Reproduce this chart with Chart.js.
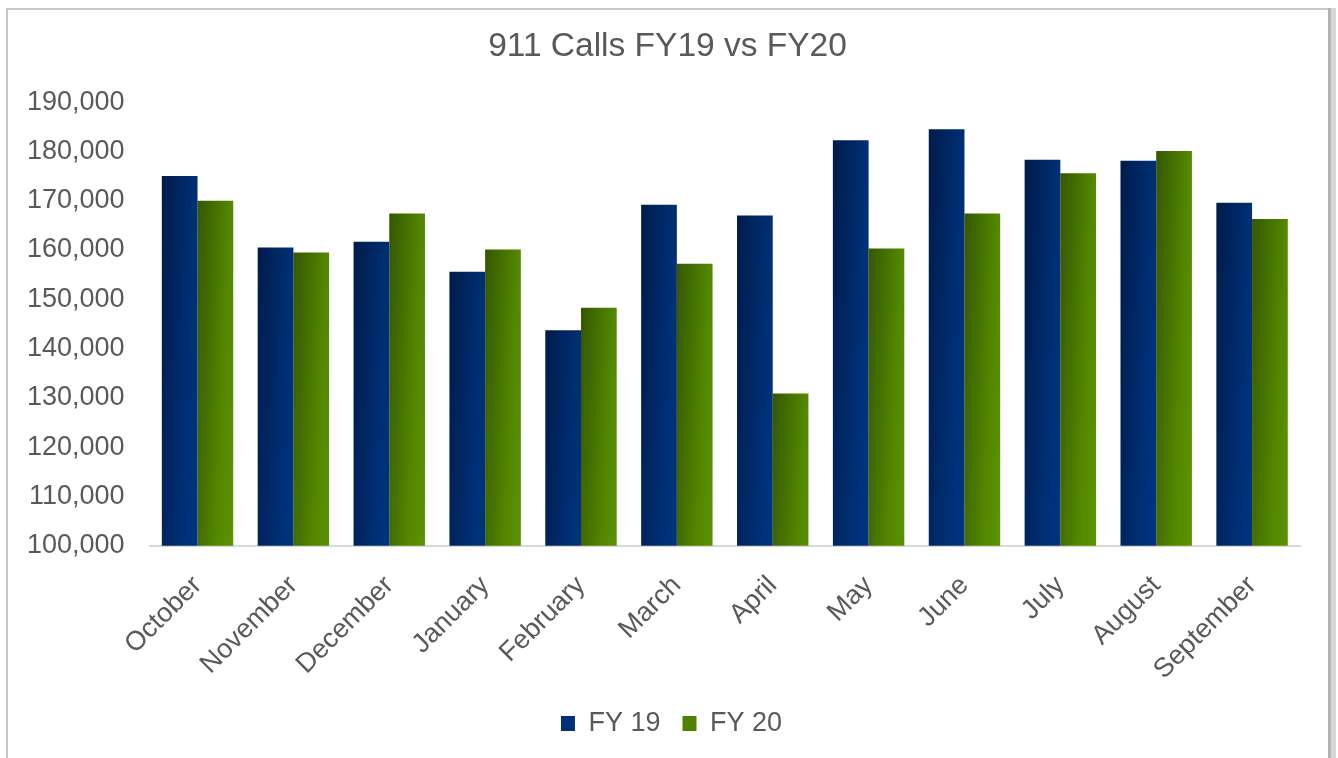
<!DOCTYPE html>
<html>
<head>
<meta charset="utf-8">
<script src="https://cdn.jsdelivr.net/npm/chart.js@4.4.1/dist/chart.umd.min.js"></script>
<style>
  html, body { margin: 0; padding: 0; background: #ffffff; }
  #wrap { position: relative; width: 1338px; height: 758px; }
</style>
</head>
<body>
<div id="wrap"><canvas id="c" width="1338" height="758"></canvas></div>
<script>
const months = ["October", "November", "December", "January", "February", "March",
                "April", "May", "June", "July", "August", "September"];
const fy19 = [175000, 160500, 161700, 155600, 143700, 169200, 167000, 182300, 184500, 178300, 178100, 169600];
const fy20 = [170000, 159500, 167400, 160100, 148300, 157200, 130900, 160300, 167400, 175600, 180100, 166300];
const seriesNames = ["FY 19", "FY 20"];
const chartTitle = "911 Calls FY19 vs FY20";
const yMin = 100000, yMax = 190000, yStep = 10000;

const gradStops = {
  0: ["#001b4a", "#002e72", "#003c8f"],
  1: ["#355700", "#528600", "#68a400"]
};

const barGradientPlugin = {
  id: 'barGradient',
  beforeDatasetsDraw(chart) {
    const ctx = chart.ctx;
    chart.data.datasets.forEach((ds, di) => {
      const meta = chart.getDatasetMeta(di);
      meta.data.forEach(el => {
        const w = el.width;
        const left = el.x - w / 2;
        const top = Math.min(el.y, el.base);
        const h = Math.abs(el.base - el.y);
        const a = 2 * w * h / (h * h + w * w);
        const g = ctx.createLinearGradient(left, top, left + a * h, top + a * w);
        const s = gradStops[di];
        g.addColorStop(0, s[0]);
        g.addColorStop(0.45, s[1]);
        g.addColorStop(1, s[2]);
        el.options.backgroundColor = g;
      });
    });
  }
};

const framePlugin = {
  id: 'frame',
  afterLayout(chart) {
    if (chart.titleBlock) { chart.titleBlock.left += 4; chart.titleBlock.right += 4; }
    const lg = chart.legend;
    if (lg) {
      lg.left += 8; lg.right += 8;
      const ctx = chart.ctx;
      (lg.legendHitBoxes || []).forEach((b, i) => {
        b.left += 8;
        const item = lg.legendItems && lg.legendItems[i];
        if (item) {
          const g = ctx.createLinearGradient(b.left, b.top, b.left + 14, b.top + b.height);
          const s = gradStops[i];
          g.addColorStop(0, s[0]);
          g.addColorStop(0.5, s[1]);
          g.addColorStop(1, s[2]);
          item.fillStyle = g;
          item.strokeStyle = g;
        }
      });
    }
  },
  beforeDraw(chart) {
    const ctx = chart.ctx;
    ctx.save();
    ctx.fillStyle = '#ffffff';
    ctx.fillRect(0, 0, chart.width, chart.height);
    ctx.fillStyle = '#c8c8c8';
    ctx.fillRect(6, 8, 2, 760);      // left
    ctx.fillRect(6, 8, 1324, 2);     // top
    ctx.fillStyle = '#b4b4b4';
    ctx.fillRect(1328, 8, 3, 760);   // right
    ctx.fillStyle = '#d6d6d6';
    ctx.fillRect(1331, 8, 5, 760);
    ctx.restore();
  }
};

const fontFamily = "'Liberation Sans', Arial, sans-serif";
const textColor = '#595959';
const yTickPad = 25;

new Chart(document.getElementById('c'), {
  type: 'bar',
  data: {
    labels: months,
    datasets: [
      { label: seriesNames[0], data: fy19, backgroundColor: () => '#003380', borderWidth: 0 },
      { label: seriesNames[1], data: fy20, backgroundColor: () => '#5a9000', borderWidth: 0 }
    ]
  },
  options: {
    responsive: false,
    animation: false,
    devicePixelRatio: 1,
    layout: { padding: { left: 27, right: 38, top: 8, bottom: 11 } },
    datasets: { bar: { categoryPercentage: 0.745, barPercentage: 1.0 } },
    plugins: {
      title: {
        display: true,
        text: chartTitle,
        color: textColor,
        font: { family: fontFamily, size: 33.5, weight: 'normal' },
        padding: { top: 19, bottom: 35 }
      },
      legend: {
        position: 'bottom',
        labels: {
          color: textColor,
          font: { family: fontFamily, size: 27 },
          boxWidth: 14,
          boxHeight: 15,
          padding: 22,
          generateLabels(chart) {
            const cols = ['#00307a', '#4f8200'];
            return chart.data.datasets.map((ds, i) => ({
              text: ds.label, fillStyle: cols[i], strokeStyle: cols[i], lineWidth: 0,
              fontColor: textColor, datasetIndex: i, hidden: false
            }));
          }
        }
      },
      tooltip: { enabled: false }
    },
    scales: {
      x: {
        grid: { display: false, drawTicks: false },
        border: { display: true, color: '#d9d9d9', width: 2 },
        afterFit(scale) { scale.height = scale.height - 22; },
        ticks: {
          color: textColor,
          font: { family: fontFamily, size: 27 },
          minRotation: 45, maxRotation: 45,
          padding: 24,
          autoSkip: false
        }
      },
      y: {
        min: yMin, max: yMax,
        grid: { display: false, drawTicks: false },
        border: { display: false },
        afterFit(scale) { scale.width = scale.width - yTickPad; },
        ticks: {
          stepSize: yStep,
          color: textColor,
          font: { family: fontFamily, size: 27 },
          padding: yTickPad,
          callback: v => v.toLocaleString('en-US')
        }
      }
    }
  },
  plugins: [framePlugin, barGradientPlugin]
});
</script>
</body>
</html>
